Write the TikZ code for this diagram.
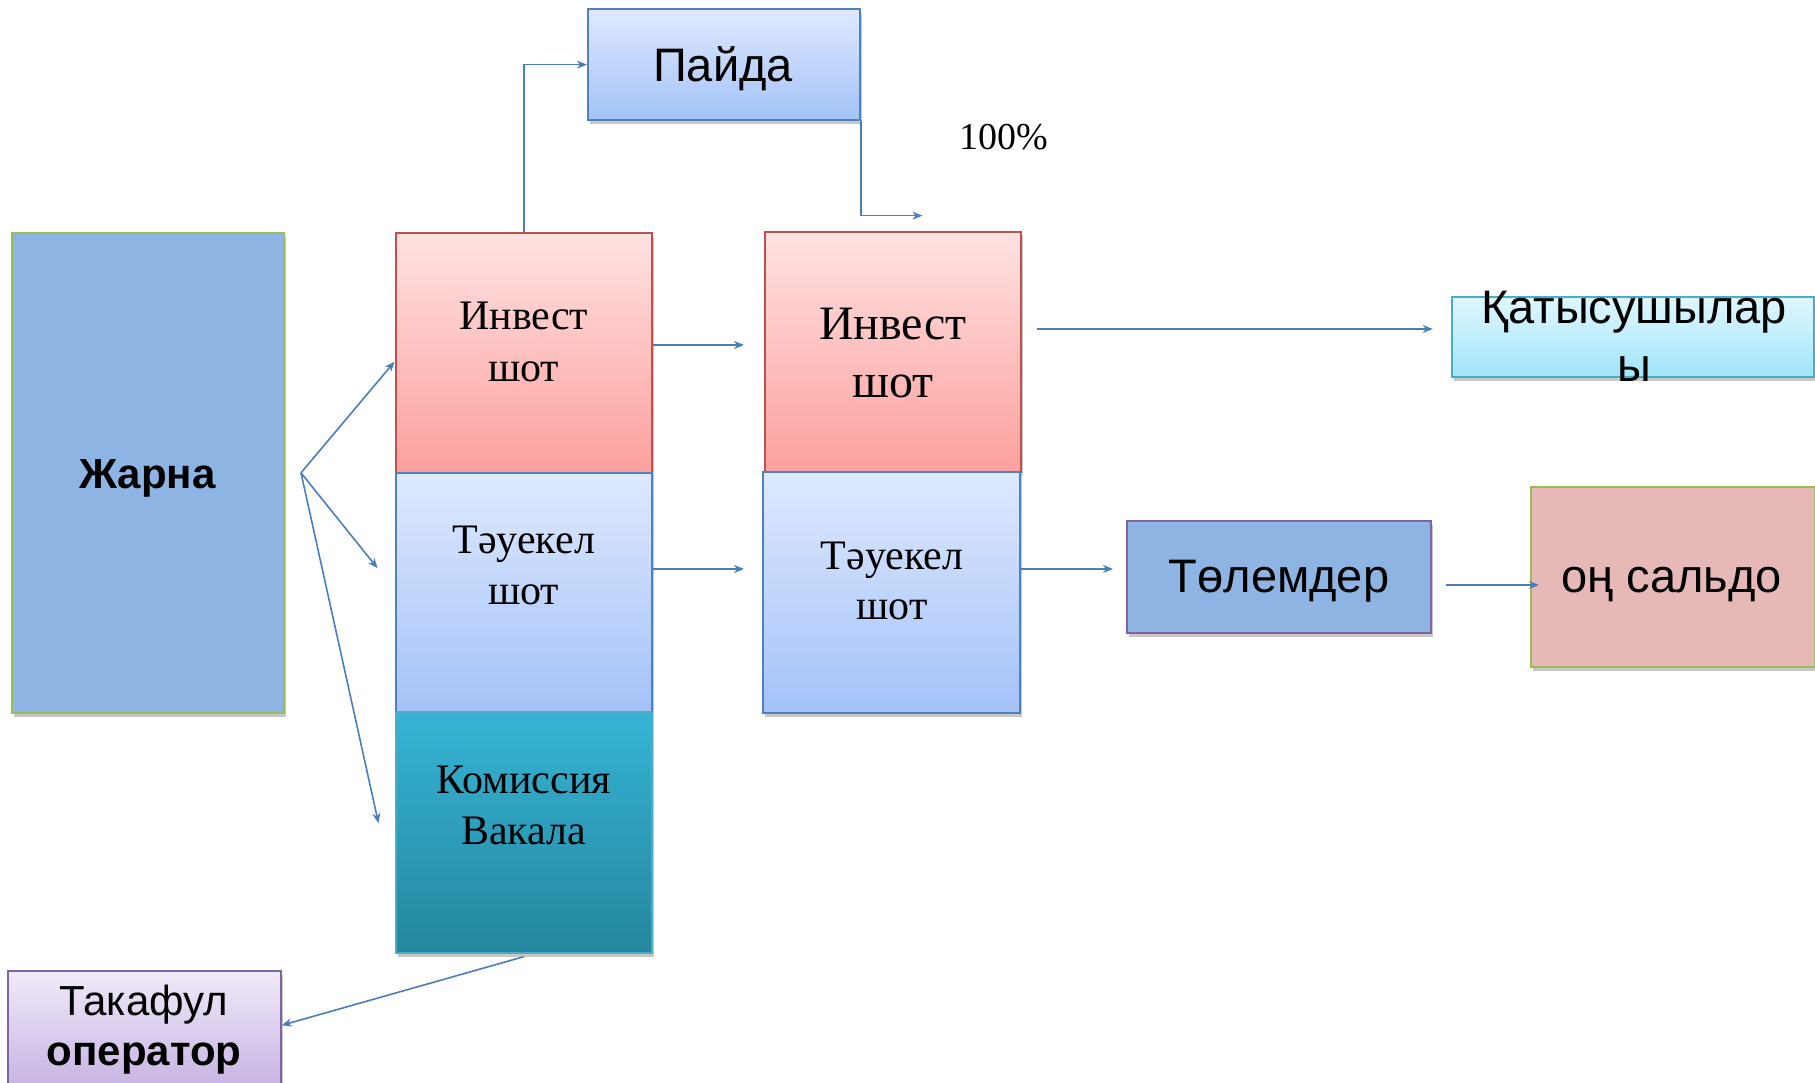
\documentclass[tikz,border=0pt]{standalone}
\usepackage{fontspec}
\setmainfont{Liberation Serif}
\newfontfamily\lsans{Liberation Sans}
\usetikzlibrary{arrows.meta,shadows,calc}

\definecolor{linec}{RGB}{74,126,187}
\definecolor{redb}{RGB}{192,80,77}
\definecolor{blueb}{RGB}{79,129,189}
\definecolor{greenb}{RGB}{155,187,89}
\definecolor{purpb}{RGB}{128,100,162}
\definecolor{tealb}{RGB}{75,172,198}
\definecolor{invtop}{RGB}{255,226,226}
\definecolor{invbot}{RGB}{252,160,158}
\definecolor{tautop}{RGB}{222,233,254}
\definecolor{taubot}{RGB}{164,194,248}
\definecolor{komtop}{RGB}{54,180,213}
\definecolor{kombot}{RGB}{37,134,158}
\definecolor{taktop}{RGB}{240,234,249}
\definecolor{takbot}{RGB}{198,178,227}
\definecolor{kattop}{RGB}{224,247,254}
\definecolor{katbot}{RGB}{160,229,250}
\definecolor{zharfill}{RGB}{142,180,227}
\definecolor{ongfill}{RGB}{230,185,184}

\tikzset{
  box/.style={rectangle, draw, line width=2pt, inner sep=0pt,
    drop shadow={shadow xshift=2pt, shadow yshift=-4pt, opacity=0.22, fill=black}},
  invshade/.style={top color=invtop, bottom color=invbot},
  taushade/.style={top color=tautop, bottom color=taubot},
  komshade/.style={top color=komtop, bottom color=kombot},
  takshade/.style={top color=taktop, bottom color=takbot},
  katshade/.style={top color=kattop, bottom color=katbot},
  arr/.style={draw=linec, line width=1.6pt, -{Stealth[length=10pt,width=8pt,inset=3pt]}},
  ln/.style={draw=linec, line width=1.6pt},
  txt/.style={anchor=base, inner sep=0pt, text=black},
  serifA/.style={txt, font=\fontsize{42}{42}\selectfont},
  serifB/.style={txt, font=\fontsize{48}{48}\selectfont},
  sansA/.style={txt, font=\lsans\fontsize{42}{42}\selectfont},
  sansAB/.style={txt, font=\lsans\bfseries\fontsize{42}{42}\selectfont},
  sansB/.style={txt, font=\lsans\fontsize{47}{47}\selectfont},
}

\begin{document}
\begin{tikzpicture}[x=1pt,y=1pt]
\useasboundingbox (0,0) rectangle (1815,1082);
\clip (0,0) rectangle (1815,1082);

% boxes
\node[box, draw=greenb, fill=zharfill, minimum width=272pt, minimum height=480.3pt] (zharna) at (147.6,609.15) {};
\node[box, draw=redb, invshade, minimum width=256.5pt, minimum height=240pt] (inv1) at (523.75,729.3) {};
\node[box, draw=blueb, taushade, minimum width=256.5pt, minimum height=239pt] (tau1) at (523.75,489.8) {};
\node[box, draw=tealb, komshade, minimum width=256.5pt, minimum height=241pt] (kom) at (523.75,249.8) {};
\node[box, draw=purpb, takshade, minimum width=272.4pt, minimum height=120pt] (tak) at (144.5,51.3) {};
\node[box, draw=blueb, taushade, minimum width=272pt, minimum height=110.7pt] (paida) at (724,1017.35) {};
\node[box, draw=redb, invshade, minimum width=256.3pt, minimum height=240.6pt] (inv2) at (892.85,730) {};
\node[box, draw=blueb, taushade, minimum width=256.3pt, minimum height=240.4pt] (tau2) at (891.35,489.5) {};
\node[box, draw=tealb, katshade, minimum width=362.6pt, minimum height=80pt] (kat) at (1633.1,745.3) {};
\node[box, draw=purpb, fill=zharfill, minimum width=304pt, minimum height=112.6pt] (tol) at (1278.6,505) {};
\node[box, draw=greenb, fill=ongfill, minimum width=284pt, minimum height=180pt] (ong) at (1672.5,505.3) {};

% texts
\node[sansAB] (zharnat) at (147.6,593.7) {Жарна};
\node[serifA] (inv1a) at (523.75,752) {Инвест};
\node[serifA] (inv1b) at (523.75,700.3) {шот};
\node[serifA] (tau1a) at (523.75,528.7) {Тәуекел};
\node[serifA] (tau1b) at (523.75,477) {шот};
\node[serifA] (koma) at (523.75,288.7) {Комиссия};
\node[serifA] (komb) at (523.75,237) {Вакала};
\node[sansA] (taka) at (144,67) {Такафул};
\node[sansAB] (takb) at (144,17) {оператор};
\node[sansB] (paidat) at (723,1000.3) {Пайда};
\node[serifB] (inv2a) at (892.8,742) {Инвест};
\node[serifB] (inv2b) at (892.8,684.7) {шот};
\node[serifA] (tau2a) at (892,512) {Тәуекел};
\node[serifA] (tau2b) at (892,462) {шот};
\node[sansB] (kata) at (1634,758.7) {Қатысушылар};
\node[sansB] (katb) at (1634,700.3) {ы};
\node[sansB] (tolt) at (1279,489.3) {Төлемдер};
\node[sansB] (ongt) at (1671.7,489.3) {оң сальдо};
\node[txt, font=\fontsize{38}{38}\selectfont] (pct) at (1004,932.7) {100\%};

% connectors
\coordinate (fork) at ([xshift=16.4pt]zharna.east);
\draw[arr] (fork) -- ([yshift=-9pt]inv1.west);
\draw[arr] (fork) -- ([shift={(-17pt,24pt)}]tau1.west);
\draw[arr] (fork) -- ([shift={(-16pt,9pt)}]kom.west);
\draw[arr] ([yshift=-3pt]kom.south) -- ([yshift=5.4pt]tak.east);
\draw[arr] (inv1.north) |- (paida.west);
\coordinate (pin) at ([shift={(29.65pt,15pt)}]inv2.north);
\draw[arr] (paida.south east) |- (pin);
\draw[arr] ([yshift=7.7pt]inv1.east) -- ([shift={(-19.7pt,7pt)}]inv2.west);
\draw[arr] ([yshift=23.2pt]tau1.east) -- ([shift={(-18.2pt,23.5pt)}]tau2.west);
\draw[arr] ([shift={(15pt,23pt)}]inv2.east) -- ([shift={(-18pt,7.7pt)}]kat.west);
\draw[arr] ([yshift=23.5pt]tau2.east) -- ([shift={(-12.6pt,8pt)}]tol.west);
\draw[arr] ([shift={(14.4pt,-8pt)}]tol.east) -- ([shift={(9.5pt,-8.3pt)}]ong.west);
\end{tikzpicture}
\end{document}
